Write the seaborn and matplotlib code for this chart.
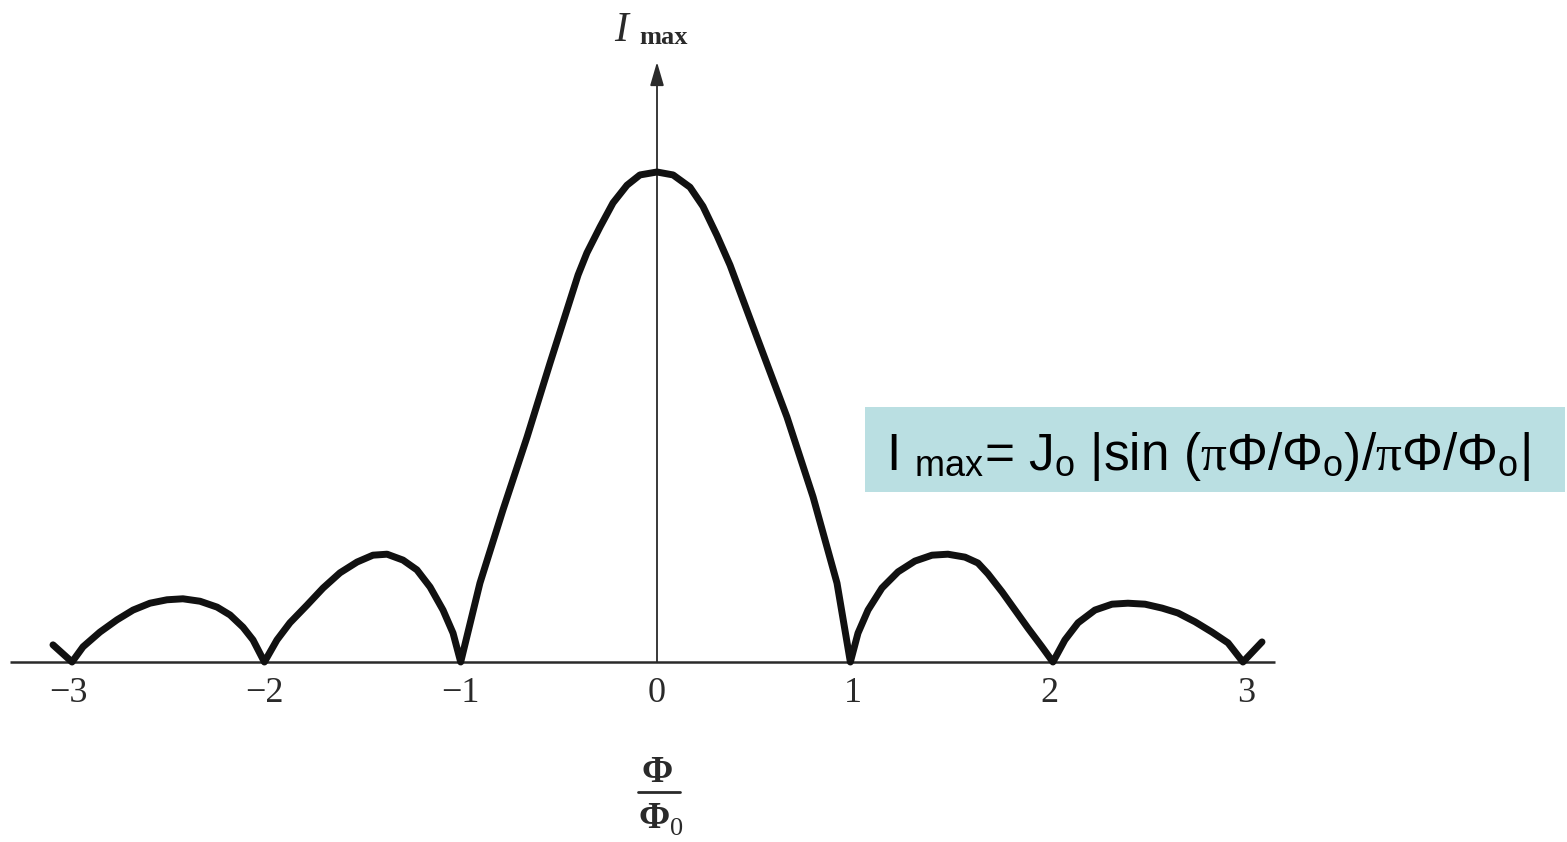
import numpy as np
import pandas as pd
import matplotlib
matplotlib.use("Agg")
import matplotlib.pyplot as plt
import seaborn as sns

# Normalised flux Φ/Φ0 and normalised maximum supercurrent I_max
flux = [-3.077, -2.98, -2.924, -2.838, -2.751, -2.669, -2.583, -2.496, -2.415,
        -2.328, -2.241, -2.175, -2.109, -2.058, -2.0,
        -1.936, -1.870, -1.783, -1.701, -1.615, -1.528, -1.447, -1.375,
        -1.294, -1.223, -1.156, -1.090, -1.039, -1.0,
        -0.902, -0.785, -0.662, -0.545, -0.402, -0.357, -0.290,
        -0.224, -0.153, -0.087, 0.0, 0.082, 0.168, 0.234, 0.306, 0.372,
        0.509, 0.662, 0.795, 0.917, 0.985,
        1.024, 1.075, 1.146, 1.228, 1.314, 1.401, 1.482, 1.569, 1.635,
        1.686, 1.758, 1.824, 1.890, 1.961, 2.017,
        2.078, 2.145, 2.231, 2.318, 2.399, 2.486, 2.573, 2.654, 2.741,
        2.827, 2.909, 2.985, 3.082]
current = [0.035, 0.0, 0.031, 0.061, 0.086, 0.106, 0.120, 0.127, 0.129,
           0.124, 0.112, 0.096, 0.071, 0.045, 0.0,
           0.045, 0.080, 0.116, 0.151, 0.182, 0.204, 0.218, 0.220,
           0.208, 0.188, 0.153, 0.106, 0.059, 0.0,
           0.161, 0.310, 0.459, 0.610, 0.790, 0.835, 0.888,
           0.937, 0.973, 0.994, 1.0, 0.994, 0.969, 0.930, 0.870, 0.810,
           0.663, 0.500, 0.337, 0.161, 0.0,
           0.059, 0.106, 0.151, 0.184, 0.206, 0.218, 0.220, 0.214, 0.202,
           0.180, 0.143, 0.106, 0.069, 0.031, 0.0,
           0.045, 0.080, 0.106, 0.118, 0.120, 0.118, 0.110, 0.100, 0.082,
           0.061, 0.039, 0.0, 0.041]
tick_values = [-3, -2, -1, 0, 1, 2, 3]
tick_labels = ["\u22123", "\u22122", "\u22121", "0", "1", "2", "3"]

df = pd.DataFrame({"flux": flux, "current": current})

sns.set_theme(style="white")
plt.rcParams["mathtext.fontset"] = "custom"
plt.rcParams["mathtext.rm"] = "Liberation Sans"
plt.rcParams["mathtext.it"] = "Liberation Serif"
plt.rcParams["mathtext.bf"] = "Liberation Serif:bold"

W, H = 1567, 842
fig = plt.figure(figsize=(W / 100, H / 100), dpi=100)
ax = fig.add_axes([0, 0, 1, 1])

# pixel frame: x = 0 at 657 px, 196.3 px per unit; baseline at 662 px, 490 px per unit
x0px, xs = 657.0, 196.3
y0px, ys = 662.0, 490.0
ax.set_xlim(-x0px / xs, (W - x0px) / xs)
ax.set_ylim(-(H - y0px) / ys, y0px / ys)
ax.axis("off")

ink = "#111111"
grey = "#2a2a2a"

def px(x):
    return (x - x0px) / xs

def py(y):
    return (y0px - y) / ys

# horizontal axis
ax.plot([px(10), px(1275)], [0, 0], color=grey, lw=1.8,
        solid_capstyle="butt", zorder=2)
# vertical axis with arrow head
ax.annotate("", xy=(0, py(62)), xytext=(0, 0),
            arrowprops=dict(arrowstyle="-|>,head_length=1.2,head_width=0.35",
                            color=grey, lw=1.3, shrinkA=0, shrinkB=0),
            zorder=2)

# the curve
sns.lineplot(data=df, x="flux", y="current", ax=ax, color=ink, linewidth=5.0,
             estimator=None, sort=False, zorder=3)
ax.lines[-1].set_solid_joinstyle("round")
ax.lines[-1].set_solid_capstyle("round")

# tick labels
for v, lab in zip(tick_values, tick_labels):
    ax.text(v, py(693), lab, ha="center", va="center",
            family="Liberation Serif", fontsize=26, color=grey)

# y-axis label
ax.text(px(614), py(31), "I", ha="left", va="center",
        family="Liberation Serif", style="italic", fontsize=30, color=grey)
ax.text(px(639), py(38), "max", ha="left", va="center",
        family="Liberation Serif", fontweight="bold", fontsize=19, color=grey)

# x-axis label as a fraction Φ/Φ0
ax.text(px(657), py(772), "\u03a6", ha="center", va="center",
        family="Liberation Serif", fontweight="bold", fontsize=27, color=grey)
ax.plot([px(638), px(680)], [py(792)] * 2, color=grey, lw=2.0)
ax.text(px(654), py(818), "\u03a6", ha="center", va="center",
        family="Liberation Serif", fontweight="bold", fontsize=27, color=grey)
ax.text(px(677), py(829), "0", ha="center", va="center",
        family="Liberation Serif", fontsize=19, color=grey)

# formula box
box_l, box_r, box_t, box_b = 865, 1565, 407, 492
ax.add_patch(plt.Rectangle((px(box_l), py(box_b)),
                           (box_r - box_l) / xs, (box_b - box_t) / ys,
                           facecolor="#badfe2", edgecolor="none", zorder=1))
formula = (r"I $_{\mathregular{max}}$= J$_{\mathregular{o}}$ |sin ($\pi$"
           "\u03a6/\u03a6"
           r"$_{\mathregular{o}}$)/$\pi$"
           "\u03a6/\u03a6"
           r"$_{\mathregular{o}}$|")
ax.text(px(886), py(470), formula, ha="left", va="baseline",
        family="Liberation Sans", fontsize=37, color="#000000", zorder=4)

fig.savefig("out.png", dpi=100)
